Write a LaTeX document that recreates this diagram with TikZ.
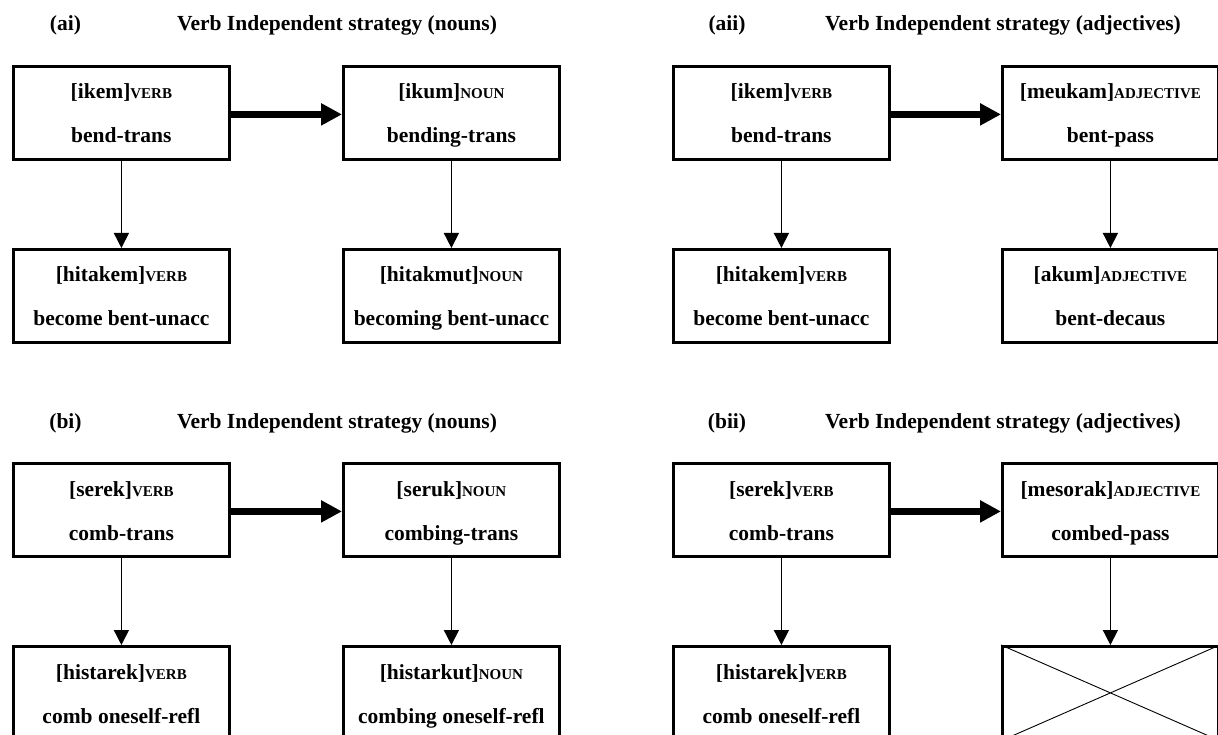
\documentclass[tikz,border=0pt]{standalone}
\usepackage{fontspec}
\setmainfont{Liberation Serif}
\usetikzlibrary{arrows.meta}
% small-caps style category tag after a bracketed form
\newcommand\cattag[1]{{\fontsize{15}{15}\selectfont #1}}
\begin{document}
\begin{tikzpicture}[x=1pt,y=-1pt,
  box/.style={draw, line width=2.8pt, minimum width=216pt, minimum height=93pt,
    inner sep=0pt, anchor=north west},
  txt/.style={anchor=base, inner sep=0pt, font=\bfseries\fontsize{21.5}{25}\selectfont},
  ttl/.style={anchor=base, inner sep=0pt, font=\bfseries\fontsize{21.5}{25}\selectfont},
  derive/.style={line width=7pt, -{Triangle[length=21pt,width=21pt]}},
  change/.style={line width=1.5pt, -{Triangle[length=15pt,width=15pt]}},
  gap/.style={line width=0.9pt},
]
\useasboundingbox (0,0) rectangle (1218,735);
\clip (0,0) rectangle (1218,735);

% ---------- (ai) ----------
\node[ttl] (ailab) at (65.5,31) {(ai)};
\node[ttl] (aittl) at (337,31) {Verb Independent strategy (nouns)};
\node[box] (ai1) at (12,65) {};
\node[box] (ai2) at (342,65) {};
\node[box] (ai3) at (12,248) {};
\node[box] (ai4) at (342,248) {};
\node[txt, yshift=-34pt] (ai1a) at (ai1.north) {[ikem]\cattag{VERB}};
\node[txt, yshift=-78pt] (ai1b) at (ai1.north) {bend-trans};
\node[txt, yshift=-34pt] (ai2a) at (ai2.north) {[ikum]\cattag{NOUN}};
\node[txt, yshift=-78pt] (ai2b) at (ai2.north) {bending-trans};
\node[txt, yshift=-34pt] (ai3a) at (ai3.north) {[hitakem]\cattag{VERB}};
\node[txt, yshift=-78pt] (ai3b) at (ai3.north) {become bent-unacc};
\node[txt, yshift=-34pt] (ai4a) at (ai4.north) {[hitakmut]\cattag{NOUN}};
\node[txt, yshift=-78pt] (ai4b) at (ai4.north) {becoming bent-unacc};
\draw[derive] ([yshift=-1.5pt]ai1.east) -- ([yshift=-1.5pt]ai2.west);
\draw[change] (ai1.south) -- (ai3.north);
\draw[change] (ai2.south) -- (ai4.north);

% ---------- (aii) ----------
\node[ttl] (aiilab) at (727,31) {(aii)};
\node[ttl] (aiittl) at (1003,31) {Verb Independent strategy (adjectives)};
\node[box] (aii1) at (672,65) {};
\node[box] (aii2) at (1001,65) {};
\node[box] (aii3) at (672,248) {};
\node[box] (aii4) at (1001,248) {};
\node[txt, yshift=-34pt] (aii1a) at (aii1.north) {[ikem]\cattag{VERB}};
\node[txt, yshift=-78pt] (aii1b) at (aii1.north) {bend-trans};
\node[txt, yshift=-34pt] (aii2a) at (aii2.north) {[meukam]\cattag{ADJECTIVE}};
\node[txt, yshift=-78pt] (aii2b) at (aii2.north) {bent-pass};
\node[txt, yshift=-34pt] (aii3a) at (aii3.north) {[hitakem]\cattag{VERB}};
\node[txt, yshift=-78pt] (aii3b) at (aii3.north) {become bent-unacc};
\node[txt, yshift=-34pt] (aii4a) at (aii4.north) {[akum]\cattag{ADJECTIVE}};
\node[txt, yshift=-78pt] (aii4b) at (aii4.north) {bent-decaus};
\draw[derive] ([yshift=-1.5pt]aii1.east) -- ([yshift=-1.5pt]aii2.west);
\draw[change] (aii1.south) -- (aii3.north);
\draw[change] (aii2.south) -- (aii4.north);

% ---------- (bi) ----------
\node[ttl] (bilab) at (65.5,428) {(bi)};
\node[ttl] (bittl) at (337,428) {Verb Independent strategy (nouns)};
\node[box] (bi1) at (12,462) {};
\node[box] (bi2) at (342,462) {};
\node[box] (bi3) at (12,645) {};
\node[box] (bi4) at (342,645) {};
\node[txt, yshift=-34pt] (bi1a) at (bi1.north) {[serek]\cattag{VERB}};
\node[txt, yshift=-78pt] (bi1b) at (bi1.north) {comb-trans};
\node[txt, yshift=-34pt] (bi2a) at (bi2.north) {[seruk]\cattag{NOUN}};
\node[txt, yshift=-78pt] (bi2b) at (bi2.north) {combing-trans};
\node[txt, yshift=-34pt] (bi3a) at (bi3.north) {[histarek]\cattag{VERB}};
\node[txt, yshift=-78pt] (bi3b) at (bi3.north) {comb oneself-refl};
\node[txt, yshift=-34pt] (bi4a) at (bi4.north) {[histarkut]\cattag{NOUN}};
\node[txt, yshift=-78pt] (bi4b) at (bi4.north) {combing oneself-refl};
\draw[derive] ([yshift=-1.5pt]bi1.east) -- ([yshift=-1.5pt]bi2.west);
\draw[change] (bi1.south) -- (bi3.north);
\draw[change] (bi2.south) -- (bi4.north);

% ---------- (bii) ----------
\node[ttl] (biilab) at (727,428) {(bii)};
\node[ttl] (biittl) at (1003,428) {Verb Independent strategy (adjectives)};
\node[box] (bii1) at (672,462) {};
\node[box] (bii2) at (1001,462) {};
\node[box] (bii3) at (672,645) {};
\node[box] (bii4) at (1001,645) {};
\node[txt, yshift=-34pt] (bii1a) at (bii1.north) {[serek]\cattag{VERB}};
\node[txt, yshift=-78pt] (bii1b) at (bii1.north) {comb-trans};
\node[txt, yshift=-34pt] (bii2a) at (bii2.north) {[mesorak]\cattag{ADJECTIVE}};
\node[txt, yshift=-78pt] (bii2b) at (bii2.north) {combed-pass};
\node[txt, yshift=-34pt] (bii3a) at (bii3.north) {[histarek]\cattag{VERB}};
\node[txt, yshift=-78pt] (bii3b) at (bii3.north) {comb oneself-refl};
% empty slot: no form exists, crossed out
\draw[gap] (bii4.north west) -- (bii4.south east)
           (bii4.south west) -- (bii4.north east);
\draw[derive] ([yshift=-1.5pt]bii1.east) -- ([yshift=-1.5pt]bii2.west);
\draw[change] (bii1.south) -- (bii3.north);
\draw[change] (bii2.south) -- (bii4.north);
\end{tikzpicture}
\end{document}
